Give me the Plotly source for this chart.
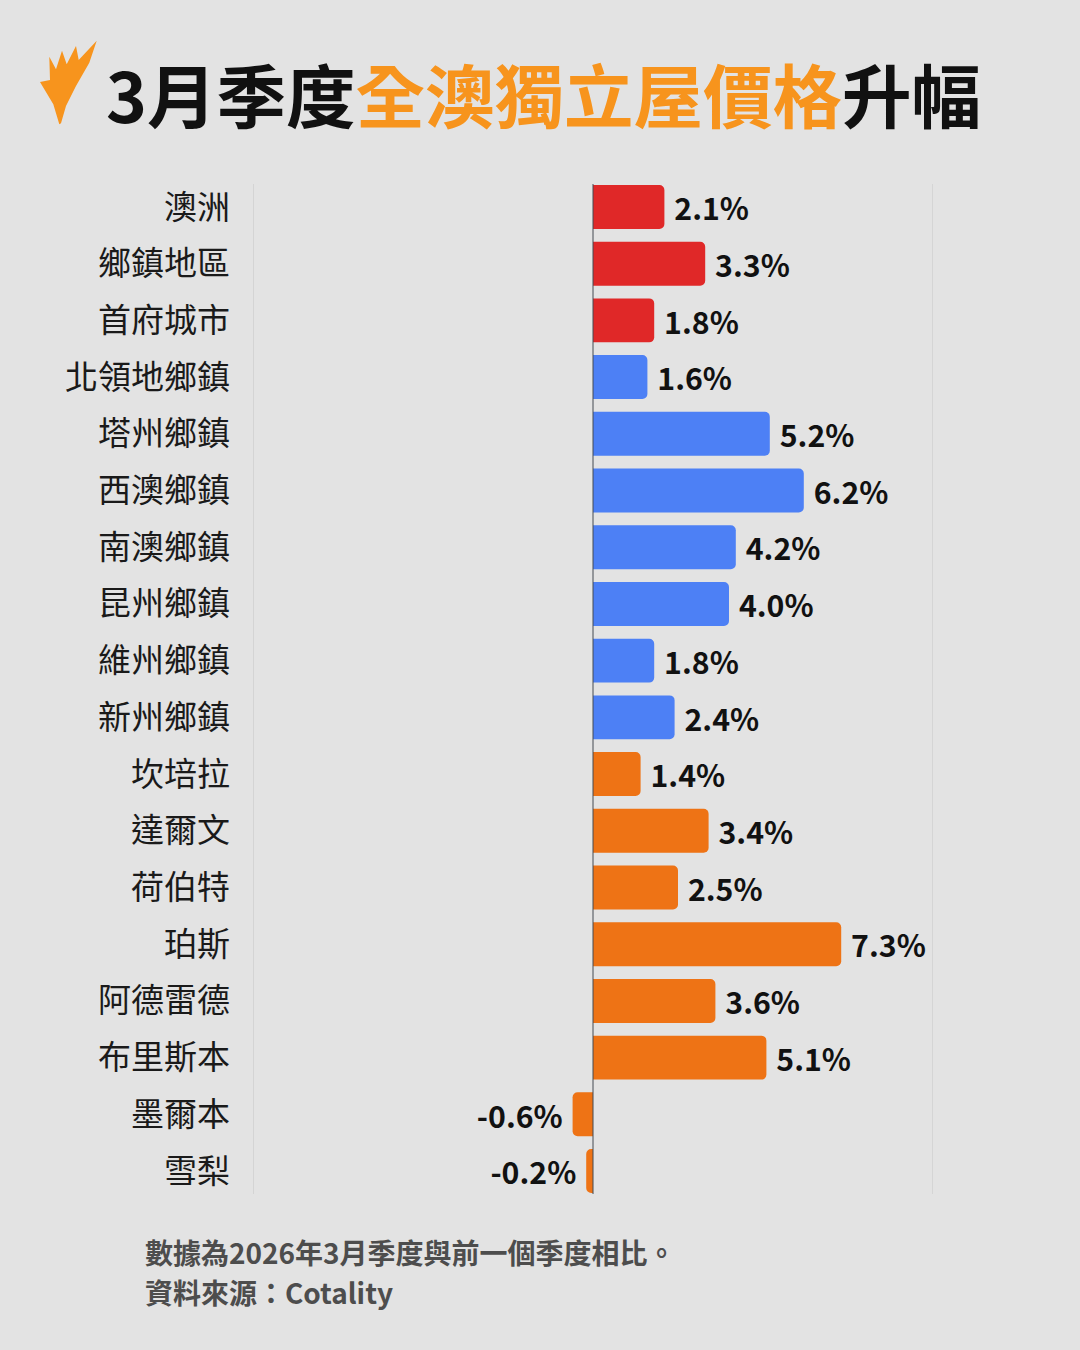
import plotly.graph_objects as go

W, H = 1080, 1350

categories = ["澳洲", "鄉鎮地區", "首府城市", "北領地鄉鎮", "塔州鄉鎮", "西澳鄉鎮", "南澳鄉鎮",
              "昆州鄉鎮", "維州鄉鎮", "新州鄉鎮", "坎培拉", "達爾文", "荷伯特", "珀斯",
              "阿德雷德", "布里斯本", "墨爾本", "雪梨"]
values = [2.1, 3.3, 1.8, 1.6, 5.2, 6.2, 4.2, 4.0, 1.8, 2.4, 1.4, 3.4, 2.5, 7.3, 3.6, 5.1, -0.6, -0.2]
groups = ["national"] * 3 + ["regional"] * 7 + ["capital"] * 8

group_colors = {"national": "#e02828", "regional": "#4d80f5", "capital": "#ee7315"}
colors = [group_colors[g] for g in groups]
NB = "\u00a0"
labels = [(NB + f"{v:.1f}%") if v >= 0 else (f"{v:.1f}%" + NB) for v in values]

FONT = "Noto Sans CJK TC"

fig = go.Figure(go.Bar(
    x=values, y=categories, orientation="h",
    marker=dict(color=colors, cornerradius=5, line=dict(width=0)),
    text=labels, textposition="outside", cliponaxis=False,
    textfont=dict(family=FONT, size=31, color="#111111", weight=700),
    hoverinfo="skip",
))


def px(x, y):
    return x / W, 1 - y / H


# logo polygon (pixel coords)
logo_pts = [(59.3, 124.3), (53.3, 104.3), (40, 82), (50, 80), (49.3, 56.7), (56, 69.3),
            (62, 50.7), (66.7, 64.3), (76, 46), (78.7, 60), (96.7, 40.7), (89.3, 62.7),
            (76, 86), (66, 106), (61, 123.3)]
path = "M " + " L ".join(f"{px(x, y)[0]:.5f},{px(x, y)[1]:.5f}" for x, y in logo_pts) + " Z"

y_top, y_bot = 1 - 184 / H, 1 - 1194 / H
vlines = [dict(type="line", xref="x", yref="paper", x0=v, x1=v, y0=y_bot, y1=y_top,
               line=dict(color="#c6c6c6", width=1), layer="below") for v in (-10, 10)]
vlines.append(dict(type="line", xref="x", yref="paper", x0=0, x1=0, y0=y_bot, y1=y_top,
                   line=dict(color="#444a52", width=1), layer="above"))

fig.update_layout(
    width=W, height=H,
    paper_bgcolor="#e3e3e3", plot_bgcolor="#e3e3e3",
    margin=dict(l=0, r=0, t=0, b=0),
    showlegend=False,
    bargap=0.225,
    xaxis=dict(domain=[253 / W, 933 / W], range=[-10, 10],
               showticklabels=False, showgrid=False, zeroline=False, fixedrange=True),
    yaxis=dict(domain=[1 - 1199.4 / H, 1 - 178.6 / H], autorange="reversed",
               tickfont=dict(family=FONT, size=33, color="#1a1a1a"),
               ticklabelstandoff=22, showgrid=False, zeroline=False, automargin=False),
    shapes=[dict(type="path", path=path, xref="paper", yref="paper",
                 fillcolor="#f7941d", line=dict(width=0))] + vlines,
    annotations=[
        dict(text="3月季度<span style='color:#f7941d'>全澳獨立屋價格</span>升幅",
             x=104 / W, y=1 - 92 / H, xref="paper", yref="paper", xanchor="left", yanchor="middle",
             showarrow=False, font=dict(family=FONT, size=69.5, color="#111111", weight=700)),
        dict(text="數據為2026年3月季度與前一個季度相比。", x=143 / W, y=1 - 1252 / H,
             xref="paper", yref="paper", xanchor="left", yanchor="middle", showarrow=False,
             font=dict(family=FONT, size=28, color="#4d4d4d", weight=700)),
        dict(text="資料來源：Cotality", x=143 / W, y=1 - 1292 / H,
             xref="paper", yref="paper", xanchor="left", yanchor="middle", showarrow=False,
             font=dict(family=FONT, size=28, color="#4d4d4d", weight=700)),
    ],
)

fig.write_html("out.html", config={"displayModeBar": False},
               post_script="document.body.style.margin='0';document.body.style.overflow='hidden';")
